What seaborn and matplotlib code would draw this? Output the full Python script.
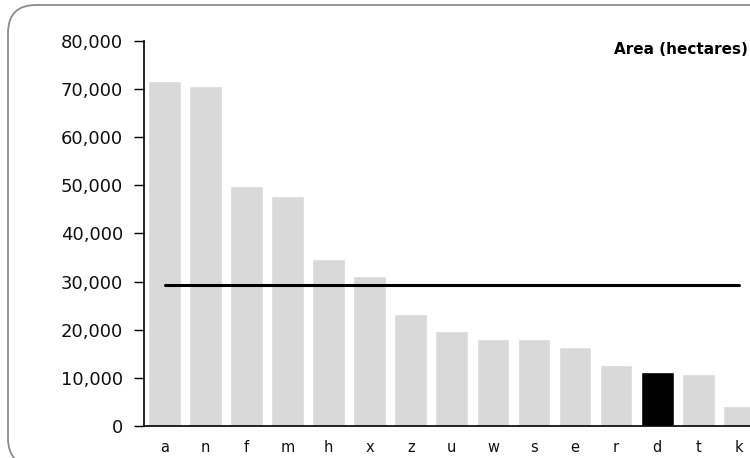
import matplotlib
matplotlib.use("Agg")
import matplotlib.pyplot as plt
from matplotlib.patches import FancyBboxPatch
from matplotlib.transforms import IdentityTransform
from matplotlib.ticker import FuncFormatter
import seaborn as sns
import pandas as pd

# -----------------------------
# Data
# -----------------------------
regions = ["a", "n", "f", "m", "h", "x", "z", "u", "w", "s", "e", "r", "d", "t", "k"]
area_ha = [71700, 70700, 49900, 47800, 34700, 31200, 23300, 19750,
           18100, 18000, 16400, 12700, 11200, 10700, 4150]
highlight = "d"
average_ha = 29300

df = pd.DataFrame({"Region": regions, "Area": area_ha})
bar_colors = ["#000000" if r == highlight else "#d9d9d9" for r in regions]

# -----------------------------
# Style
# -----------------------------
sns.set_theme(style="white")
plt.rcParams["font.family"] = ["DejaVu Sans"]

fig = plt.figure(figsize=(7.5, 4.58), dpi=100)
ax = fig.add_axes([0.192, 0.0699, 0.821, 0.8406])

sns.barplot(data=df, x="Region", y="Area", hue="Region", palette=bar_colors,
            legend=False, width=0.8, saturation=1, ax=ax)

# average line from first to last bar centre
ax.plot([0, len(regions) - 1], [average_ha, average_ha], color="black", lw=2.2)

ax.set_xlim(-0.5, len(regions) - 0.5)
ax.set_ylim(0, 80000)
ax.set_yticks(range(0, 80001, 10000))
ax.yaxis.set_major_formatter(FuncFormatter(lambda v, _: f"{int(v):,}"))
ax.set_xlabel("")
ax.set_ylabel("")

for side in ["top", "right"]:
    ax.spines[side].set_visible(False)
for side in ["left", "bottom"]:
    ax.spines[side].set_color("black")
    ax.spines[side].set_linewidth(1.2)

ax.tick_params(axis="y", which="both", left=True, length=7, width=1,
               color="black", labelsize=13, pad=8, labelcolor="#111111")
ax.tick_params(axis="x", bottom=False, labelsize=10.5, pad=4, labelcolor="#111111")

fig.text(0.997, 0.893, "Area (hectares)", ha="right", va="center",
         fontsize=11, fontweight="bold", color="black")

# rounded frame around the chart (pixel coordinates), runs off the right/bottom edges
frame = FancyBboxPatch((8, -8), 820, 461,
                       boxstyle="round,pad=0,rounding_size=28",
                       transform=IdentityTransform(), fill=False,
                       edgecolor="#8c8c8c", linewidth=1.3)
fig.patches.append(frame)

fig.savefig("out.png", dpi=100)
